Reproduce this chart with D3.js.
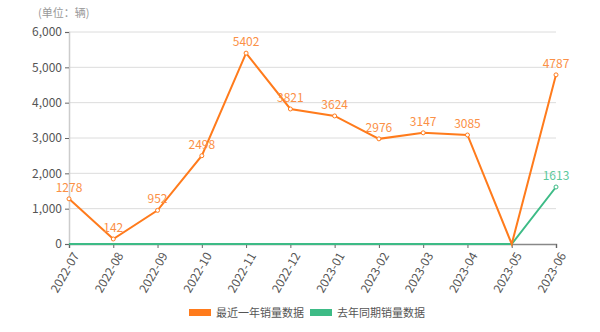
<!DOCTYPE html>
<html>
<head>
<meta charset="utf-8">
<script src="https://cdn.jsdelivr.net/npm/d3@7"></script>
<style>
body { margin: 0; background: #fff; }
text { font-family: "Noto Sans CJK SC", "Noto Sans", sans-serif; }
</style>
</head>
<body>
<script>
// chart data
var months = ["2022-07", "2022-08", "2022-09", "2022-10", "2022-11", "2022-12",
	"2023-01", "2023-02", "2023-03", "2023-04", "2023-05", "2023-06"];
var recentYear = [1278, 142, 952, 2498, 5402, 3821, 3624, 2976, 3147, 3085, 0, 4787];
var lastYear = [0, 0, 0, 0, 0, 0, 0, 0, 0, 0, 0, 1613];
var yTicks = [0, 1000, 2000, 3000, 4000, 5000, 6000];
var seriesNames = ["最近一年销量数据", "去年同期销量数据"];
var colors = ["#ff7b1c", "#3dbb86"];
var labelColors = ["#fb9046", "#5cc99c"];

var chart = { width: 600, height: 332, left: 69, right: 556, top: 32, bottom: 244 };

var svg = d3.select("body")
	.append("svg")
	.attr("width", chart.width)
	.attr("height", chart.height);

var x = d3.scalePoint()
	.domain(months)
	.range([chart.left, chart.right]);

var y = d3.scaleLinear()
	.domain([0, 6000])
	.range([chart.bottom, chart.top]);

// grid lines
svg.selectAll(".grid")
	.data(yTicks.slice(1))
	.enter()
	.append("line")
	.attr("x1", chart.left)
	.attr("x2", chart.right)
	.attr("y1", function(d){ return y(d); })
	.attr("y2", function(d){ return y(d); })
	.attr("stroke", "#dcdcdc")
	.attr("stroke-width", 1);

// y axis
var yAxis = svg.append("g")
	.attr("transform", "translate(" + chart.left + ",0)")
	.call(d3.axisLeft(y).tickValues(yTicks).tickSize(4).tickPadding(3).tickFormat(d3.format(",")));
yAxis.select(".domain").attr("stroke", "#ccc").attr("stroke-width", 1.5);
yAxis.selectAll(".tick line").attr("stroke", "#666");
yAxis.selectAll("text").attr("fill", "#555").style("font-size", "12px");

// x axis
var xAxis = svg.append("g")
	.attr("transform", "translate(0," + chart.bottom + ")")
	.call(d3.axisBottom(x).tickSize(4).tickPadding(3));
xAxis.select(".domain").attr("stroke", "#888").attr("stroke-width", 1.5);
xAxis.selectAll(".tick line").attr("stroke", "#666");
xAxis.selectAll("text")
	.attr("fill", "#555")
	.style("font-size", "12px")
	.attr("text-anchor", "end")
	.attr("dx", "0")
	.attr("dy", "0")
	.attr("transform", "translate(4,8) rotate(-60)");

// unit label
svg.append("text")
	.attr("x", 38)
	.attr("y", 17)
	.attr("fill", "#999")
	.style("font-size", "11px")
	.text("(单位：辆)");

var line = d3.line()
	.x(function(d, i){ return x(months[i]); })
	.y(function(d){ return y(d); });

var allSeries = [lastYear, recentYear];
var seriesIdx = [1, 0];

allSeries.forEach(function(values, k){
	var s = seriesIdx[k];
	var pts = values.map(function(v, i){ return { m: months[i], v: v }; });

	svg.append("path")
		.datum(values)
		.attr("d", line)
		.attr("fill", "none")
		.attr("stroke", colors[s])
		.attr("stroke-width", 2);

	svg.selectAll(".pt" + s)
		.data(pts.filter(function(d){ return d.v !== 0; }))
		.enter()
		.append("circle")
		.attr("cx", function(d){ return x(d.m); })
		.attr("cy", function(d){ return y(d.v); })
		.attr("r", 2)
		.attr("fill", "#fff")
		.attr("stroke", colors[s])
		.attr("stroke-width", 1);

	svg.selectAll(".lbl" + s)
		.data(pts.filter(function(d){ return d.v !== 0; }))
		.enter()
		.append("text")
		.attr("x", function(d){ return x(d.m); })
		.attr("y", function(d){ return y(d.v) - 7; })
		.attr("text-anchor", "middle")
		.attr("fill", labelColors[s])
		.style("font-size", "12px")
		.text(function(d){ return d.v; });
});

// legend
var legend = svg.append("g").attr("transform", "translate(189,309)");
seriesNames.forEach(function(name, i){
	var g = legend.append("g").attr("transform", "translate(" + (i * 121) + ",0)");
	g.append("rect")
		.attr("width", 22)
		.attr("height", 7)
		.attr("fill", colors[i]);
	g.append("text")
		.attr("x", 27)
		.attr("y", 7.5)
		.attr("fill", "#555")
		.style("font-size", "11px")
		.text(name);
});
</script>
</body>
</html>
